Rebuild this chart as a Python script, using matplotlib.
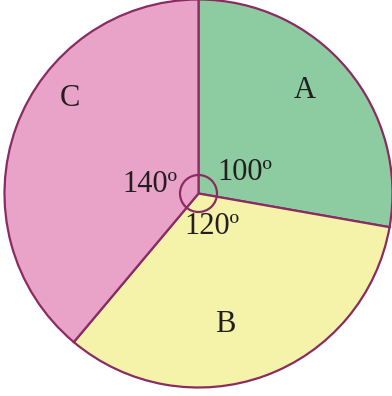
import matplotlib
matplotlib.use("Agg")
import matplotlib.pyplot as plt
from matplotlib.patches import Circle

categories = ["A", "B", "C"]
angles = [100, 120, 140]
angle_labels = ["100º", "120º", "140º"]
colors = ["#8dcca1", "#f5f3a9", "#e9a3c8"]
edge = "#8a2c62"

W, H = 392, 396
fig = plt.figure(figsize=(W / 100, H / 100), dpi=100)
ax = fig.add_axes([0, 0, 1, 1])

cx, cy, R = 198.5, 396 - 193.5, 194

wedges, _ = ax.pie(angles, colors=colors, startangle=90, counterclock=False,
                   center=(cx, cy), radius=R, frame=False,
                   wedgeprops=dict(edgecolor=edge, linewidth=1.6))

ax.add_patch(Circle((cx, cy), 18.5, fill=False, edgecolor=edge, linewidth=1.6))

font = dict(family="Liberation Serif", fontsize=22, color="#231f20",
            ha="center", va="center")
cat_pos = [(305, 90), (225, 325), (70, 98)]
for lab, (x, y) in zip(categories, cat_pos):
    ax.text(x, H - y, lab, **font)
ang_pos = [(245, 172), (212, 227), (150, 184)]
for lab, (x, y) in zip(angle_labels, ang_pos):
    ax.text(x, H - y, lab, **font)

ax.set_xlim(0, W)
ax.set_ylim(0, H)
ax.set_aspect("auto")
ax.axis("off")
fig.savefig("out.png", dpi=100)
